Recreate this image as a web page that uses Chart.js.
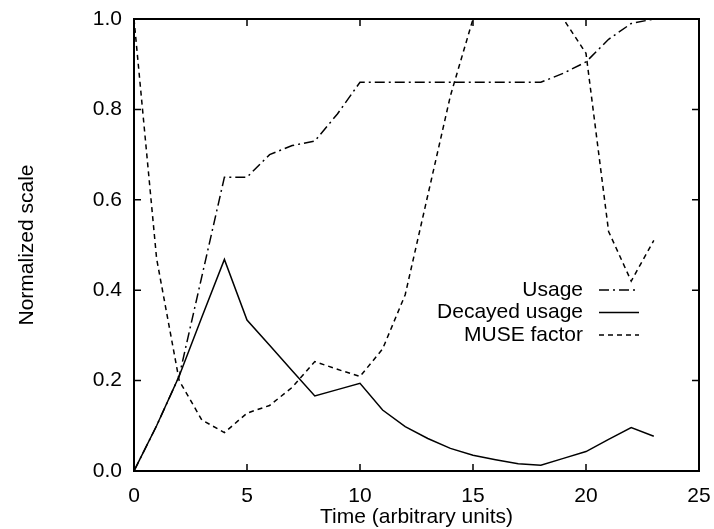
<!DOCTYPE html>
<html>
<head>
<meta charset="utf-8">
<script src="https://cdn.jsdelivr.net/npm/chart.js@4.4.0/dist/chart.umd.min.js"></script>
<style>
  body { margin: 0; background: #fff; }
</style>
</head>
<body>
<canvas id="muse" width="714" height="529"></canvas>
<script>
const times = [0, 1, 2, 3, 4, 5, 6, 7, 8, 9, 10, 11, 12, 13, 14, 15, 16, 17, 18, 19, 20, 21, 22, 23];
const usage = [0, 0.1, 0.21, 0.43, 0.65, 0.65, 0.70, 0.72, 0.73, 0.79, 0.86, 0.86, 0.86, 0.86, 0.86, 0.86, 0.86, 0.86, 0.86, 0.88, 0.905, 0.955, 0.99, 1.0];
const decayed = [0, 0.1, 0.21, 0.34, 0.468, 0.334, 0.278, 0.222, 0.166, 0.18, 0.194, 0.135, 0.098, 0.072, 0.05, 0.035, 0.025, 0.016, 0.013, 0.028, 0.043, 0.07, 0.096, 0.077];
const museFactor = [1.0, 0.47, 0.2, 0.113, 0.085, 0.128, 0.145, 0.185, 0.242, 0.225, 0.209, 0.27, 0.39, 0.61, 0.83, 1.0, 1.2, 1.25, 1.2, 1.0, 0.924, 0.53, 0.42, 0.51];
const xTicks = [0, 5, 10, 15, 20, 25];
const yTicks = [0, 0.2, 0.4, 0.6, 0.8, 1.0];

const FONT = { family: "'Liberation Sans', Arial, sans-serif", size: 21 };

function points(values) {
    return times.map((t, i) => ({ x: t, y: values[i] }));
}

// gnuplot-style box with inward ticks, plus the legend inside the plot
const framePlugin = {
    id: 'frame',
    afterDatasetsDraw(chart) {
        const { ctx, chartArea: a, scales } = chart;
        ctx.save();
        ctx.strokeStyle = '#000';
        ctx.lineWidth = 2;
        ctx.strokeRect(a.left, a.top, a.right - a.left, a.bottom - a.top);
        ctx.lineWidth = 1.5;
        ctx.beginPath();
        xTicks.forEach(v => {
            const px = scales.x.getPixelForValue(v);
            ctx.moveTo(px, a.bottom); ctx.lineTo(px, a.bottom - 7);
            ctx.moveTo(px, a.top); ctx.lineTo(px, a.top + 7);
        });
        yTicks.forEach(v => {
            const py = scales.y.getPixelForValue(v);
            ctx.moveTo(a.left, py); ctx.lineTo(a.left + 7, py);
            ctx.moveTo(a.right, py); ctx.lineTo(a.right - 7, py);
        });
        ctx.stroke();

        // legend
        ctx.font = FONT.size + 'px ' + FONT.family;
        ctx.fillStyle = '#000';
        ctx.textAlign = 'right';
        ctx.textBaseline = 'middle';
        chart.data.datasets.forEach((ds, i) => {
            const y = 290 + i * 22.5;
            ctx.fillText(ds.label, 583, y);
            ctx.beginPath();
            ctx.setLineDash(ds.borderDash || []);
            ctx.lineWidth = 1.5;
            ctx.moveTo(599, y);
            ctx.lineTo(639, y);
            ctx.stroke();
        });
        ctx.restore();
    }
};

const chart = new Chart(document.getElementById('muse').getContext('2d'), {
    type: 'line',
    data: {
        datasets: [{
            label: 'Usage',
            data: points(usage),
            borderColor: '#000',
            borderWidth: 1.5,
            borderDash: [10, 4, 2, 4]
        }, {
            label: 'Decayed usage',
            data: points(decayed),
            borderColor: '#000',
            borderWidth: 1.5,
            borderDash: []
        }, {
            label: 'MUSE factor',
            data: points(museFactor),
            borderColor: '#000',
            borderWidth: 1.5,
            borderDash: [5, 4]
        }]
    },
    options: {
        responsive: false,
        animation: false,
        elements: { point: { radius: 0 }, line: { tension: 0 } },
        layout: { padding: { top: 19, right: 15, left: 0, bottom: 0 } },
        plugins: { legend: { display: false }, tooltip: { enabled: false } },
        scales: {
            x: {
                type: 'linear',
                min: 0,
                max: 25,
                afterFit(scale) {
                    scale.height = 58;
                    scale.paddingLeft = 0;
                    scale.paddingRight = 0;
                },
                afterBuildTicks(scale) { scale.ticks = xTicks.map(v => ({ value: v })); },
                grid: { display: false, drawTicks: false },
                border: { display: false },
                ticks: { color: '#000', font: FONT, padding: 13, maxRotation: 0 },
                title: { display: true, text: 'Time (arbitrary units)', color: '#000', font: FONT, padding: { top: 0, bottom: -1 } }
            },
            y: {
                min: 0,
                max: 1,
                afterFit(scale) {
                    scale.width = 134;
                    scale.paddingTop = 0;
                    scale.paddingBottom = 0;
                },
                afterBuildTicks(scale) { scale.ticks = yTicks.map(v => ({ value: v })); },
                grid: { display: false, drawTicks: false },
                border: { display: false },
                ticks: { color: '#000', font: FONT, padding: 12, callback: v => v.toFixed(1) },
                title: { display: true, text: 'Normalized scale', color: '#000', font: FONT, padding: { top: 15, bottom: 0 } }
            }
        }
    },
    plugins: [framePlugin]
});
</script>
</body>
</html>
